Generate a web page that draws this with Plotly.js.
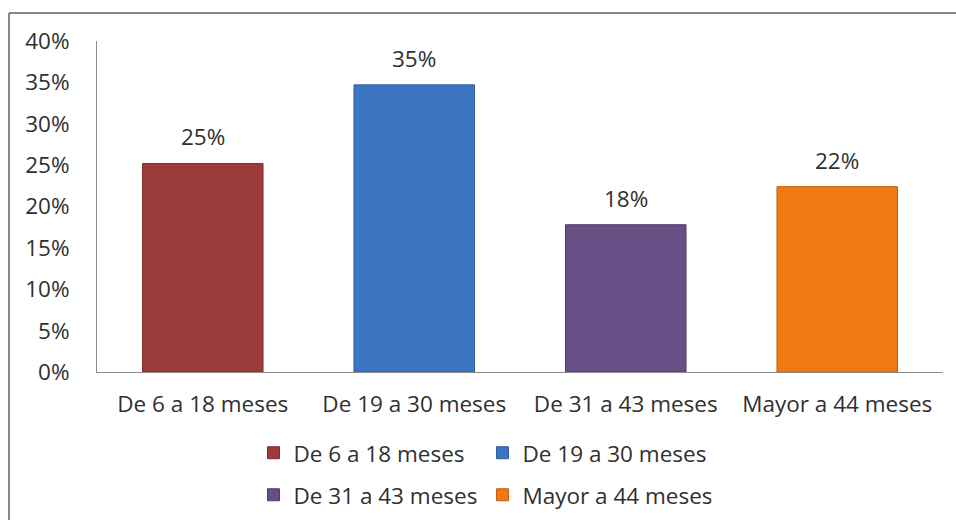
<!DOCTYPE html>
<html>
<head>
<meta charset="utf-8">
<script src="https://cdn.plot.ly/plotly-3.0.1.min.js"></script>
<style>
html,body{margin:0;padding:0;background:#fff;}
#chart{width:956px;height:520px;}
</style>
</head>
<body>
<div id="chart"></div>
<script>
const categories = ["De 6 a 18 meses", "De 19 a 30 meses", "De 31 a 43 meses", "Mayor a 44 meses"];
const values = [0.252, 0.347, 0.178, 0.224];
const colors = ["#9B3C3A", "#3C75C2", "#674F86", "#F07915"];
const lineColors = ["#7E2E2C", "#2E5E9E", "#4F3C68", "#C45F0C"];
const yTickVals = [0, 0.05, 0.10, 0.15, 0.20, 0.25, 0.30, 0.35, 0.40];
const yTickText = ["0%", "5%", "10%", "15%", "20%", "25%", "30%", "35%", "40%"];

const FONT = "'Open Sans', Lato, sans-serif";
const FS = 22.5;
const TXT = "#303030";

const traces = categories.map((c, i) => ({
  type: "bar",
  name: c,
  x: [c],
  y: [values[i]],
  marker: {color: colors[i], line: {color: lineColors[i], width: 1}},
  legend: i < 2 ? "legend" : "legend2",
  hoverinfo: "skip"
}));

const annotations = categories.map((c, i) => ({
  x: c, y: values[i], xref: "x", yref: "y",
  text: Math.round(values[i] * 100) + "%",
  showarrow: false, yanchor: "bottom", yshift: 9,
  font: {family: FONT, size: FS, color: TXT}
}));

const layout = {
  width: 956, height: 520,
  margin: {l: 97, r: 13, t: 41, b: 148, autoexpand: false},
  paper_bgcolor: "#ffffff", plot_bgcolor: "#ffffff",
  font: {family: FONT, size: FS, color: TXT},
  barmode: "overlay",
  bargap: 0.43,
  showlegend: true,
  xaxis: {
    categoryorder: "array", categoryarray: categories,
    showline: true, linecolor: "#8c8c8c", linewidth: 1,
    ticks: "", showgrid: false, zeroline: false,
    ticklabelstandoff: 12, automargin: false,
    tickfont: {family: FONT, size: FS, color: TXT},
    fixedrange: true
  },
  yaxis: {
    range: [0, 0.40],
    tickvals: yTickVals, ticktext: yTickText,
    showline: true, linecolor: "#8c8c8c", linewidth: 1,
    ticks: "", showgrid: false, zeroline: false,
    ticklabelstandoff: 22, automargin: false,
    tickfont: {family: FONT, size: FS, color: TXT},
    fixedrange: true
  },
  legend: {
    orientation: "h", x: 0.185, xanchor: "left", y: -0.245, yanchor: "middle",
    entrywidth: 184, font: {family: FONT, size: FS, color: TXT},
    bgcolor: "rgba(0,0,0,0)"
  },
  legend2: {
    orientation: "h", x: 0.185, xanchor: "left", y: -0.372, yanchor: "middle",
    entrywidth: 184, font: {family: FONT, size: FS, color: TXT},
    bgcolor: "rgba(0,0,0,0)"
  },
  annotations: annotations,
  shapes: [
    {type: "line", xref: "paper", yref: "paper", x0: -0.104, x1: 1.05, y0: 1.0846, y1: 1.0846,
     line: {color: "#868686", width: 2}},
    {type: "line", xref: "paper", yref: "paper", x0: -0.104, x1: -0.104, y0: 1.0846, y1: -0.6,
     line: {color: "#868686", width: 2}}
  ]
};

Plotly.newPlot("chart", traces, layout, {displayModeBar: false, staticPlot: true});
</script>
</body>
</html>
